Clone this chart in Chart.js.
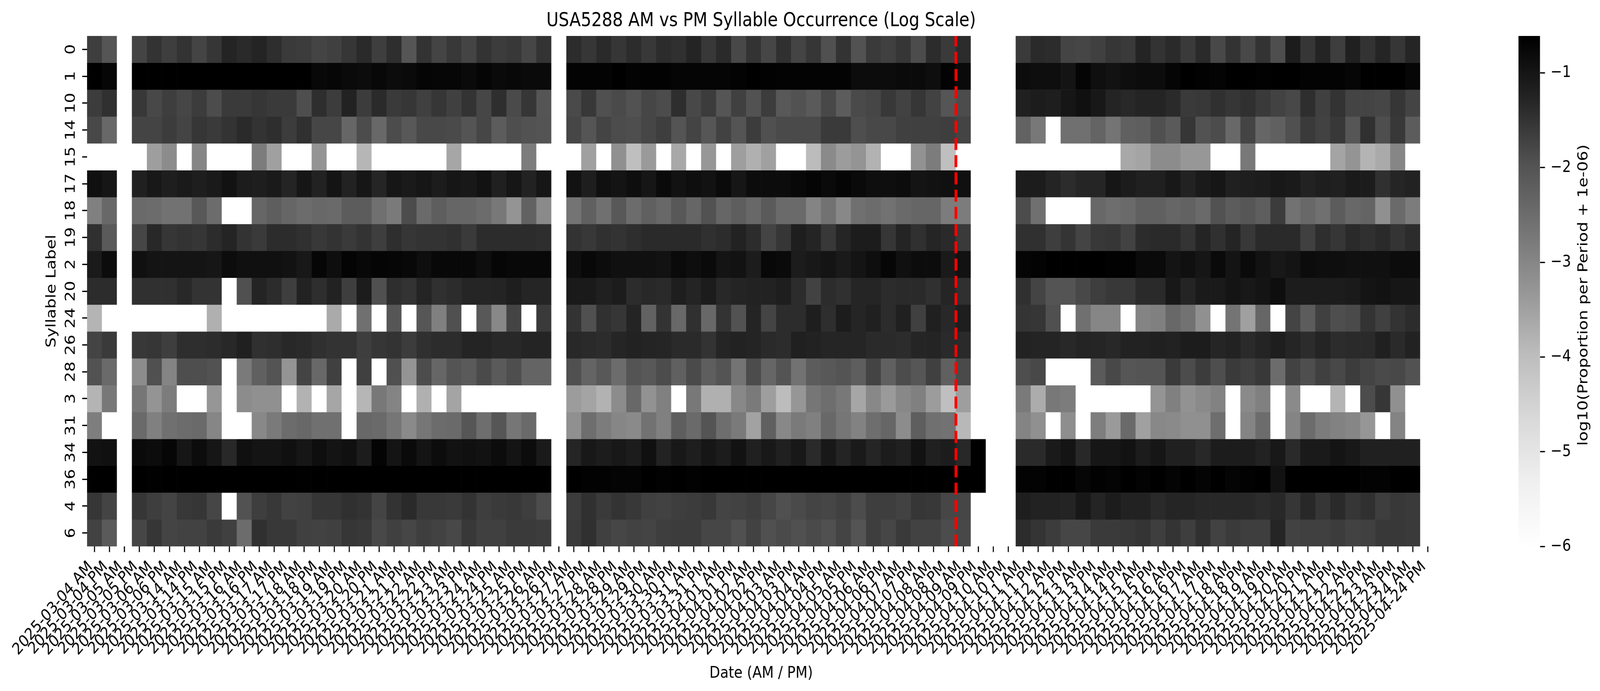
<!DOCTYPE html>
<html><head><meta charset="utf-8">
<style>html,body{margin:0;padding:0;background:#fff;overflow:hidden}
canvas{position:absolute;top:0;left:0}</style>
<script src="https://cdn.jsdelivr.net/npm/chart.js@4"></script></head><body>
<canvas id="main" width="4817" height="1768"></canvas>
<canvas id="cbar" width="317" height="1768"></canvas>
<script>
const periods=["2025-03-04 AM","2025-03-04 PM","2025-03-05 AM","2025-03-05 PM","2025-03-06 AM","2025-03-06 PM","2025-03-14 AM","2025-03-14 PM","2025-03-15 AM","2025-03-15 PM","2025-03-16 AM","2025-03-16 PM","2025-03-17 AM","2025-03-17 PM","2025-03-18 AM","2025-03-18 PM","2025-03-19 AM","2025-03-19 PM","2025-03-20 AM","2025-03-20 PM","2025-03-21 AM","2025-03-21 PM","2025-03-22 AM","2025-03-22 PM","2025-03-23 AM","2025-03-23 PM","2025-03-24 AM","2025-03-24 PM","2025-03-25 AM","2025-03-25 PM","2025-03-26 AM","2025-03-26 PM","2025-03-27 AM","2025-03-27 PM","2025-03-28 AM","2025-03-28 PM","2025-03-29 AM","2025-03-29 PM","2025-03-30 AM","2025-03-30 PM","2025-03-31 AM","2025-03-31 PM","2025-04-01 AM","2025-04-01 PM","2025-04-02 AM","2025-04-02 PM","2025-04-03 AM","2025-04-03 PM","2025-04-04 AM","2025-04-04 PM","2025-04-05 AM","2025-04-05 PM","2025-04-06 AM","2025-04-06 PM","2025-04-07 AM","2025-04-07 PM","2025-04-08 AM","2025-04-08 PM","2025-04-09 AM","2025-04-09 PM","2025-04-10 AM","2025-04-10 PM","2025-04-11 AM","2025-04-11 PM","2025-04-12 AM","2025-04-12 PM","2025-04-13 AM","2025-04-13 PM","2025-04-14 AM","2025-04-14 PM","2025-04-15 AM","2025-04-15 PM","2025-04-16 AM","2025-04-16 PM","2025-04-17 AM","2025-04-17 PM","2025-04-18 AM","2025-04-18 PM","2025-04-19 AM","2025-04-19 PM","2025-04-20 AM","2025-04-20 PM","2025-04-21 AM","2025-04-21 PM","2025-04-22 AM","2025-04-22 PM","2025-04-23 AM","2025-04-23 PM","2025-04-24 AM","2025-04-24 PM"];
const syllables=["0","1","10","14","15","17","18","19","2","20","24","26","28","3","31","34","36","4","6"];
const s0=[-1.66,-2.02,-6,-1.75,-1.50,-1.66,-1.50,-1.75,-1.54,-1.26,-1.36,-1.26,-1.42,-1.60,-1.63,-1.75,-1.69,-1.54,-1.36,-1.66,-1.42,-2.02,-1.50,-1.75,-1.57,-1.75,-1.50,-1.63,-1.57,-1.78,-1.50,-6,-1.39,-1.54,-1.36,-1.54,-1.39,-1.57,-1.39,-1.45,-1.26,-1.57,-1.36,-1.81,-1.50,-1.78,-1.45,-1.75,-1.54,-1.93,-1.50,-1.96,-1.60,-1.69,-1.54,-1.87,-1.39,-1.60,-1.39,-6,-6,-6,-1.60,-1.36,-1.39,-1.75,-1.78,-1.69,-1.54,-1.60,-1.26,-1.50,-1.36,-1.60,-1.36,-1.81,-1.50,-1.81,-1.50,-1.90,-1.12,-1.54,-1.26,-1.66,-1.19,-1.50,-1.29,-1.54,-1.29,-6];
const s1=[-.61,-.72,-6,-.61,-.61,-.61,-.61,-.61,-.61,-.61,-.61,-.61,-.61,-.61,-.61,-.76,-.72,-.79,-.83,-.76,-.83,-.79,-.70,-.72,-.72,-.79,-.70,-.79,-.76,-.79,-.79,-6,-.67,-.67,-.67,-.61,-.67,-.65,-.65,-.70,-.70,-.70,-.70,-.67,-.61,-.65,-.67,-.67,-.67,-.67,-.67,-.83,-.83,-.83,-.79,-.79,-.87,-.67,-.79,-6,-6,-6,-.83,-.87,-.87,-.97,-.70,-.88,-.94,-.87,-.83,-.83,-.70,-.61,-.65,-.68,-.61,-.61,-.65,-.61,-.61,-.67,-.67,-.67,-.72,-.61,-.61,-.61,-.72,-6];
const s10=[-1.63,-1.45,-6,-1.57,-1.81,-1.66,-1.78,-1.63,-1.87,-1.60,-1.60,-1.54,-1.60,-1.60,-1.90,-1.42,-1.63,-1.23,-1.63,-1.36,-1.60,-1.54,-1.69,-1.54,-1.69,-1.50,-1.78,-1.42,-1.84,-1.54,-2.02,-6,-1.84,-1.57,-1.93,-1.84,-1.96,-1.78,-1.87,-1.42,-1.81,-1.63,-2.02,-1.69,-1.96,-1.63,-2.08,-1.96,-2.12,-1.81,-2.16,-1.84,-1.78,-1.57,-1.72,-1.54,-1.72,-2.02,-1.87,-6,-6,-6,-1.19,-1.12,-1.15,-1.01,-.90,-1.05,-1.26,-1.33,-1.26,-1.26,-1.36,-1.60,-1.57,-1.45,-1.54,-1.45,-1.60,-1.72,-1.81,-1.42,-1.69,-1.50,-1.75,-1.75,-1.78,-1.54,-1.75,-6];
const s14=[-1.81,-2.40,-6,-1.75,-1.75,-1.63,-1.75,-1.54,-1.60,-1.50,-1.36,-1.50,-1.42,-1.63,-1.45,-1.78,-1.78,-2.36,-1.87,-2.40,-1.87,-2.08,-1.81,-1.81,-1.84,-2.00,-1.78,-2.16,-1.90,-1.96,-2.00,-6,-1.78,-2.02,-1.75,-1.87,-1.90,-1.78,-1.66,-2.00,-1.75,-2.04,-1.72,-2.00,-1.63,-1.93,-1.84,-1.84,-1.84,-1.60,-1.60,-1.90,-1.81,-1.81,-1.69,-1.69,-1.69,-1.66,-1.75,-6,-6,-6,-2.28,-2.73,-6,-2.57,-2.57,-2.32,-2.65,-2.24,-2.20,-1.93,-2.12,-1.54,-1.96,-1.87,-2.40,-1.75,-2.36,-2.24,-1.93,-1.60,-1.72,-1.57,-2.04,-1.45,-1.90,-1.57,-2.16,-6];
const s15=[-6,-6,-6,-6,-3.44,-3.11,-6,-3.00,-6,-6,-6,-2.80,-3.48,-6,-6,-3.26,-6,-6,-3.86,-6,-6,-6,-6,-6,-3.58,-6,-6,-6,-6,-2.80,-6,-6,-6,-3.48,-6,-3.18,-4.03,-3.37,-6,-3.62,-6,-3.33,-6,-3.44,-3.75,-3.48,-6,-6,-3.96,-3.07,-3.41,-3.26,-3.79,-6,-6,-3.22,-2.80,-4.03,-6,-6,-6,-6,-6,-6,-6,-6,-6,-6,-6,-3.62,-3.55,-3.11,-3.11,-3.33,-3.33,-6,-6,-2.73,-6,-6,-6,-6,-6,-3.55,-3.26,-3.82,-3.65,-3.00,-6,-6];
const s17=[-.90,-1.01,-6,-1.19,-1.05,-1.15,-1.08,-1.15,-1.08,-.94,-1.12,-1.15,-1.08,-1.26,-1.01,-1.23,-.97,-1.23,-1.01,-1.29,-1.01,-1.08,-1.01,-1.12,-1.01,-1.05,-.94,-1.19,-1.01,-1.23,-1.01,-6,-.94,-1.15,-.90,-.97,-.87,-1.01,-.79,-.94,-.87,-.94,-.79,-1.01,-.83,-.83,-.83,-.76,-.70,-.79,-.70,-.79,-.87,-.87,-.83,-.97,-.94,-.90,-.90,-6,-6,-6,-1.12,-1.12,-1.26,-1.39,-1.29,-1.29,-1.01,-1.12,-1.19,-1.19,-1.05,-1.23,-1.08,-1.01,-1.19,-1.15,-1.12,-1.05,-1.08,-1.23,-1.15,-1.19,-1.08,-1.12,-1.45,-1.29,-1.23,-6];
const s18=[-2.88,-2.40,-6,-2.45,-2.49,-2.61,-2.61,-2.08,-2.49,-6,-6,-2.36,-2.20,-2.36,-2.49,-2.40,-2.45,-2.16,-2.16,-2.57,-2.77,-1.87,-2.45,-2.20,-2.36,-2.36,-2.49,-2.73,-3.26,-2.28,-3.07,-6,-2.65,-2.24,-2.57,-2.08,-2.49,-2.24,-2.40,-2.08,-2.36,-1.96,-2.36,-2.20,-2.40,-2.12,-2.45,-2.45,-2.96,-2.61,-3.03,-2.57,-2.49,-2.61,-2.45,-2.36,-2.36,-2.80,-2.80,-6,-6,-6,-1.87,-2.57,-6,-6,-6,-2.40,-2.53,-2.45,-2.24,-2.24,-2.36,-2.28,-2.45,-1.96,-2.16,-2.04,-2.20,-1.63,-2.61,-2.40,-2.57,-2.16,-2.40,-2.32,-3.18,-2.45,-2.80,-6];
const s19=[-1.45,-2.12,-6,-1.78,-1.33,-1.54,-1.50,-1.54,-1.39,-1.26,-1.50,-1.60,-1.39,-1.39,-1.45,-1.57,-1.50,-1.60,-1.50,-1.66,-1.42,-1.54,-1.50,-1.50,-1.45,-1.60,-1.39,-1.39,-1.39,-1.39,-1.42,-6,-1.50,-1.57,-1.45,-1.50,-1.42,-1.36,-1.36,-1.36,-1.36,-1.45,-1.39,-1.23,-1.39,-1.75,-1.54,-1.15,-1.26,-1.57,-1.29,-1.12,-1.12,-1.54,-1.26,-1.45,-1.29,-1.36,-1.60,-6,-6,-6,-1.45,-1.45,-1.66,-1.51,-1.75,-1.57,-1.54,-1.72,-1.39,-1.36,-1.36,-1.51,-1.26,-1.45,-1.26,-1.57,-1.36,-1.36,-1.36,-1.69,-1.42,-1.54,-1.36,-1.45,-1.36,-1.51,-1.39,-6];
const s2=[-1.08,-.83,-6,-.90,-.97,-.97,-.97,-.97,-1.01,-.83,-.90,-.90,-.90,-.94,-1.05,-.72,-.87,-.68,-.76,-.70,-.72,-.76,-.87,-.76,-.76,-.76,-.87,-.72,-.76,-.76,-.76,-6,-.87,-.76,-.83,-.90,-.90,-.90,-.94,-.79,-.87,-.79,-.97,-.94,-1.12,-.76,-.79,-1.12,-1.05,-.97,-1.08,-.97,-.87,-.72,-.90,-.83,-.83,-1.08,-.94,-6,-6,-6,-.70,-.67,-.61,-.61,-.61,-.61,-.65,-.65,-.79,-.79,-.97,-.90,-1.01,-.79,-.97,-.79,-.94,-1.05,-.97,-.83,-.87,-.87,-.90,-.90,-.90,-.83,-.83,-6];
const s20=[-1.39,-1.39,-6,-1.45,-1.45,-1.45,-1.33,-1.50,-1.50,-6,-1.93,-1.26,-1.39,-1.66,-1.23,-1.42,-1.23,-1.66,-1.12,-1.93,-1.42,-1.50,-1.26,-1.45,-1.39,-1.29,-1.29,-1.26,-1.15,-1.29,-1.29,-6,-1.08,-1.08,-1.19,-1.12,-1.39,-1.33,-1.36,-1.15,-1.26,-1.12,-1.33,-1.26,-1.23,-1.23,-1.15,-1.39,-1.72,-1.39,-1.45,-1.29,-1.29,-1.39,-1.36,-1.36,-1.45,-1.29,-1.45,-6,-6,-6,-1.45,-1.75,-2.00,-2.00,-1.81,-1.66,-1.57,-1.57,-1.36,-1.36,-1.05,-1.26,-1.08,-1.08,-.97,-1.05,-.97,-.87,-1.12,-1.12,-1.12,-1.12,-1.08,-.97,-.94,-1.01,-1.01,-6];
const s24=[-3.82,-6,-6,-6,-6,-6,-6,-6,-3.75,-6,-6,-6,-6,-6,-6,-6,-3.65,-6,-2.57,-6,-2.04,-6,-2.04,-2.88,-1.93,-6,-2.08,-3.03,-1.75,-6,-1.60,-6,-1.50,-1.93,-1.45,-1.54,-1.26,-2.28,-1.50,-2.40,-1.45,-2.40,-1.50,-1.96,-1.26,-1.75,-1.39,-1.39,-1.15,-1.42,-1.12,-1.29,-1.19,-1.39,-1.19,-1.69,-1.19,-1.33,-1.15,-6,-6,-6,-1.51,-1.54,-1.93,-6,-2.57,-3.00,-3.00,-6,-2.96,-2.88,-2.40,-2.61,-3.18,-6,-2.65,-3.48,-2.36,-6,-1.75,-2.16,-1.69,-1.90,-1.84,-1.50,-1.69,-1.50,-1.39,-6];
const s26=[-1.75,-1.60,-6,-1.57,-1.54,-1.66,-1.42,-1.42,-1.39,-1.33,-1.19,-1.45,-1.42,-1.33,-1.36,-1.45,-1.50,-1.50,-1.66,-1.54,-1.50,-1.63,-1.45,-1.39,-1.39,-1.26,-1.26,-1.33,-1.33,-1.26,-1.26,-6,-1.33,-1.36,-1.39,-1.29,-1.23,-1.26,-1.29,-1.36,-1.36,-1.50,-1.29,-1.23,-1.26,-1.36,-1.39,-1.19,-1.23,-1.29,-1.29,-1.29,-1.36,-1.36,-1.39,-1.29,-1.26,-1.36,-1.36,-6,-6,-6,-1.23,-1.26,-1.26,-1.33,-1.26,-1.29,-1.33,-1.23,-1.23,-1.19,-1.23,-1.12,-1.12,-1.29,-1.23,-1.36,-1.26,-1.15,-1.29,-1.39,-1.26,-1.39,-1.36,-1.36,-1.19,-1.36,-1.23,-6];
const s28=[-1.96,-2.45,-6,-3.11,-1.93,-2.96,-1.90,-1.90,-1.96,-6,-2.77,-2.24,-2.00,-3.26,-1.75,-2.40,-1.69,-6,-1.69,-6,-1.93,-3.26,-1.87,-2.36,-2.00,-2.12,-1.84,-2.12,-1.90,-2.32,-2.32,-6,-1.93,-2.32,-2.08,-2.49,-2.00,-2.08,-1.87,-2.24,-1.84,-2.20,-2.00,-2.65,-1.87,-2.36,-2.00,-2.61,-2.16,-2.08,-2.00,-2.20,-1.75,-2.24,-1.87,-2.04,-1.69,-2.24,-1.84,-6,-6,-6,-1.90,-1.81,-6,-6,-6,-2.12,-1.81,-2.04,-2.00,-2.00,-1.60,-1.87,-1.63,-1.90,-1.60,-1.69,-1.57,-2.49,-1.72,-1.90,-1.69,-1.81,-1.63,-1.75,-1.84,-1.81,-1.96,-6];
const s3=[-3.82,-2.73,-6,-2.69,-3.26,-2.80,-6,-6,-3.30,-6,-3.11,-3.18,-3.18,-6,-3.79,-6,-3.58,-6,-3.86,-2.73,-2.96,-6,-3.75,-6,-3.55,-6,-6,-6,-6,-6,-6,-6,-3.41,-3.55,-3.79,-3.11,-2.40,-3.22,-2.88,-6,-2.73,-3.75,-3.75,-3.03,-2.77,-3.44,-3.96,-3.30,-2.69,-2.53,-2.73,-3.58,-3.03,-3.37,-3.03,-2.88,-3.41,-4.03,-3.44,-6,-6,-6,-2.77,-3.69,-2.73,-2.80,-6,-6,-6,-6,-6,-3.26,-2.88,-3.22,-3.07,-2.92,-6,-3.07,-2.88,-6,-3.07,-6,-6,-3.82,-6,-1.87,-1.54,-3.18,-6,-6];
const s31=[-2.84,-6,-6,-2.45,-2.88,-2.57,-2.49,-2.45,-3.00,-6,-6,-3.03,-2.77,-2.49,-2.40,-2.57,-2.57,-6,-2.40,-2.45,-2.69,-3.07,-2.69,-2.49,-2.45,-2.04,-2.53,-2.04,-2.69,-2.45,-6,-6,-3.18,-2.53,-2.80,-3.00,-3.07,-2.61,-2.88,-2.20,-2.45,-2.00,-2.53,-2.77,-3.51,-2.24,-3.03,-2.77,-2.88,-2.40,-2.69,-2.92,-2.53,-2.36,-3.11,-2.20,-2.57,-2.61,-3.89,-6,-6,-6,-2.96,-3.18,-6,-3.15,-6,-2.84,-3.37,-2.45,-3.48,-3.03,-3.07,-3.18,-3.18,-2.53,-6,-2.96,-2.49,-6,-2.96,-2.49,-2.80,-2.92,-3.00,-3.30,-6,-2.96,-6,-6];
const s34=[-.94,-.90,-6,-.79,-.83,-.72,-1.01,-.83,-1.01,-1.33,-.90,-.97,-.97,-.90,-1.01,-.87,-.97,-.90,-1.12,-.68,-.97,-.79,-.97,-.83,-.94,-.90,-.94,-.83,-.97,-.83,-1.08,-6,-1.29,-1.05,-1.12,-1.05,-1.12,-.90,-1.23,-1.05,-1.15,-1.01,-1.12,-.94,-1.19,-1.05,-1.19,-1.05,-1.36,-1.05,-1.26,-1.08,-1.29,-1.12,-1.19,-.94,-1.19,-1.12,-1.33,-.61,-6,-6,-1.36,-1.36,-1.08,-.97,-1.33,-1.01,-1.01,-.94,-1.12,-1.01,-1.19,-1.19,-1.33,-1.12,-1.12,-1.12,-1.23,-1.05,-1.36,-1.08,-1.08,-.97,-1.05,-1.19,-1.19,-1.19,-1.19,-6];
const s36=[-.61,-.61,-6,-.61,-.63,-.61,-.61,-.61,-.61,-.61,-.61,-.61,-.61,-.61,-.62,-.61,-.61,-.61,-.61,-.61,-.61,-.61,-.61,-.61,-.61,-.61,-.61,-.61,-.61,-.61,-.61,-6,-.61,-.65,-.65,-.68,-.68,-.61,-.65,-.61,-.65,-.61,-.61,-.61,-.61,-.61,-.61,-.61,-.61,-.61,-.61,-.61,-.61,-.61,-.61,-.61,-.61,-.61,-.61,-.61,-6,-6,-.67,-.67,-.61,-.61,-.72,-.65,-.68,-.61,-.67,-.61,-.68,-.61,-.68,-.61,-.68,-.65,-.61,-.94,-.61,-.61,-.61,-.61,-.61,-.67,-.67,-.61,-.61,-6];
const s4=[-1.54,-1.75,-6,-1.54,-1.66,-1.75,-1.57,-1.54,-1.78,-6,-1.96,-1.66,-1.57,-1.72,-1.69,-1.54,-1.54,-1.45,-1.50,-1.75,-1.50,-1.36,-1.57,-1.57,-1.60,-1.50,-1.66,-1.60,-1.57,-1.66,-1.87,-6,-1.63,-1.45,-1.60,-1.50,-1.57,-1.69,-1.72,-1.66,-1.63,-1.57,-1.75,-1.72,-1.66,-1.78,-1.93,-1.84,-1.75,-1.78,-1.69,-1.87,-1.66,-1.66,-1.72,-1.54,-1.57,-1.78,-1.78,-6,-6,-6,-1.15,-1.23,-1.23,-1.26,-1.05,-1.26,-1.12,-1.23,-1.23,-1.36,-1.29,-1.29,-1.33,-1.33,-1.33,-1.33,-1.39,-1.33,-1.54,-1.33,-1.54,-1.36,-1.54,-1.45,-1.66,-1.57,-1.60,-6];
const s6=[-1.72,-2.12,-6,-1.78,-1.54,-1.75,-1.72,-1.72,-1.60,-1.69,-2.49,-1.45,-1.57,-1.57,-1.69,-1.72,-1.69,-1.54,-1.57,-1.81,-1.69,-1.78,-1.66,-1.72,-1.81,-1.57,-1.69,-1.69,-1.60,-1.60,-1.63,-6,-1.60,-1.45,-1.69,-1.78,-1.72,-1.75,-1.66,-1.63,-1.63,-1.78,-1.78,-1.93,-1.72,-1.93,-1.84,-1.93,-1.84,-1.93,-1.75,-2.00,-1.66,-1.78,-1.60,-1.72,-1.72,-1.87,-1.81,-6,-6,-6,-1.39,-1.51,-1.63,-1.78,-1.78,-1.60,-1.60,-1.57,-1.51,-1.66,-1.51,-1.66,-1.45,-1.72,-1.60,-1.66,-1.66,-1.29,-1.72,-1.69,-1.69,-1.63,-1.72,-1.69,-1.57,-1.57,-1.60,-6];
const seriesRows=[s0,s1,s10,s14,s15,s17,s18,s19,s2,s20,s24,s26,s28,s3,s31,s34,s36,s4,s6];
const cbarTicks=[-1,-2,-3,-4,-5,-6];
const vmin=-6,vmax=-0.61,eventBoundary=57.5;
const greys=[255,240,217,189,150,115,82,37,0];
const FONT='"DejaVu Sans"';
Chart.defaults.font.family=FONT;Chart.defaults.color='#000';
const fitX=window.innerWidth/4817,fitY=window.innerHeight/1768;
const mainCv=document.getElementById('main'),barCv=document.getElementById('cbar');
mainCv.style.width=(4817*fitX)+'px';mainCv.style.height=(1768*fitY)+'px';
barCv.style.width=(317*fitX)+'px';barCv.style.height=(1768*fitY)+'px';barCv.style.left=(4500*fitX)+'px';
const grayAt=t=>{const p=Math.min(Math.max(t,0),1)*8,i=Math.min(Math.floor(p),7);return Math.round(greys[i]+(greys[i+1]-greys[i])*(p-i));};
const colorOf=v=>{const g=grayAt((v-vmin)/(vmax-vmin));return `rgb(${g},${g},${g})`;};
const datasets=seriesRows.map((row,r)=>({type:'bar',label:syllables[r],order:2,data:row.map(()=>[r,r+1]),backgroundColor:row.map(colorOf),borderWidth:0,barPercentage:1,categoryPercentage:1,grouped:false,xAxisID:'x',yAxisID:'y'}));
datasets.push({type:'line',label:'event',order:0,xAxisID:'x',yAxisID:'y',parsing:false,normalized:true,data:[{x:eventBoundary,y:syllables.length},{x:eventBoundary,y:0}],borderColor:'#ff0000',borderWidth:8.33,borderDash:[30.8,13.3],pointRadius:0,fill:false});
new Chart(mainCv,{type:'bar',data:{labels:periods,datasets},options:{
 responsive:false,devicePixelRatio:1,animation:false,events:[],
 layout:{padding:{left:0,right:496,top:0,bottom:0}},
 plugins:{legend:{display:false},tooltip:{enabled:false},
  title:{display:true,fullSize:false,text:'USA5288 AM vs PM Syllable Occurrence (Log Scale)',color:'#000',font:{size:50,weight:'normal',family:FONT},padding:{top:24,bottom:8}}},
 scales:{
  x:{type:'category',offset:true,position:'bottom',afterFit:s=>{s.height=370;},
   grid:{offset:false,drawOnChartArea:false,drawTicks:true,tickLength:14.6,tickWidth:3.33,tickColor:'#000'},border:{display:false},
   ticks:{autoSkip:false,minRotation:45,maxRotation:45,padding:14,labelOffset:-12,color:'#000',font:{size:41.67,family:FONT}},
   title:{display:true,text:'Date (AM / PM)',color:'#000',font:{size:41.67,family:FONT},padding:{top:0,bottom:20}}},
  y:{type:'linear',min:0,max:syllables.length,reverse:true,position:'left',afterFit:s=>{s.width=262;},
   afterBuildTicks:s=>{s.ticks=syllables.map((_,i)=>({value:i+0.5}));},
   grid:{drawOnChartArea:false,drawTicks:true,tickLength:14.6,tickWidth:3.33,tickColor:'#000'},border:{display:false},
   ticks:{autoSkip:false,minRotation:90,maxRotation:90,crossAlign:'center',padding:7,color:'#000',font:{size:41.67,family:FONT},callback:(v,i)=>syllables[i]},
   title:{display:true,text:'Syllable Label',color:'#000',font:{size:41.67,family:FONT},padding:{top:131,bottom:0}}}
 }}});
const rampFill=ctx=>{const c=ctx.chart,a=c.chartArea;if(!a)return '#000';const g=c.ctx.createLinearGradient(0,a.bottom,0,a.top);greys.forEach((v,i)=>g.addColorStop(i/(greys.length-1),`rgb(${v},${v},${v})`));return g;};
const cbarLabel={id:'cbarLabel',afterDraw(c){const x=c.ctx;x.save();x.translate(268,755);x.rotate(-Math.PI/2);x.font='41.67px '+FONT;x.fillStyle='#000';x.textAlign='center';x.textBaseline='middle';x.fillText('log10(Proportion per Period + 1e-06)',0,0);x.restore();}};
new Chart(barCv,{type:'bar',plugins:[cbarLabel],data:{labels:['scale'],datasets:[{data:[[vmin,vmax]],backgroundColor:rampFill,borderWidth:0,barPercentage:1,categoryPercentage:1}]},options:{
 responsive:false,devicePixelRatio:1,animation:false,events:[],
 layout:{padding:{left:72,right:0,top:92,bottom:370}},
 plugins:{legend:{display:false},tooltip:{enabled:false}},
 scales:{x:{display:false},
  y:{type:'linear',position:'right',min:vmin,max:vmax,afterFit:s=>{s.width=180.4;},
   afterBuildTicks:s=>{s.ticks=cbarTicks.map(v=>({value:v}));},
   grid:{drawOnChartArea:false,drawTicks:true,tickLength:15,tickWidth:3.33,tickColor:'#000'},border:{display:false},
   ticks:{autoSkip:false,padding:17,color:'#000',font:{size:41.67,family:FONT},callback:v=>'\u2212'+Math.abs(v)}}
 }}});
</script></body></html>
